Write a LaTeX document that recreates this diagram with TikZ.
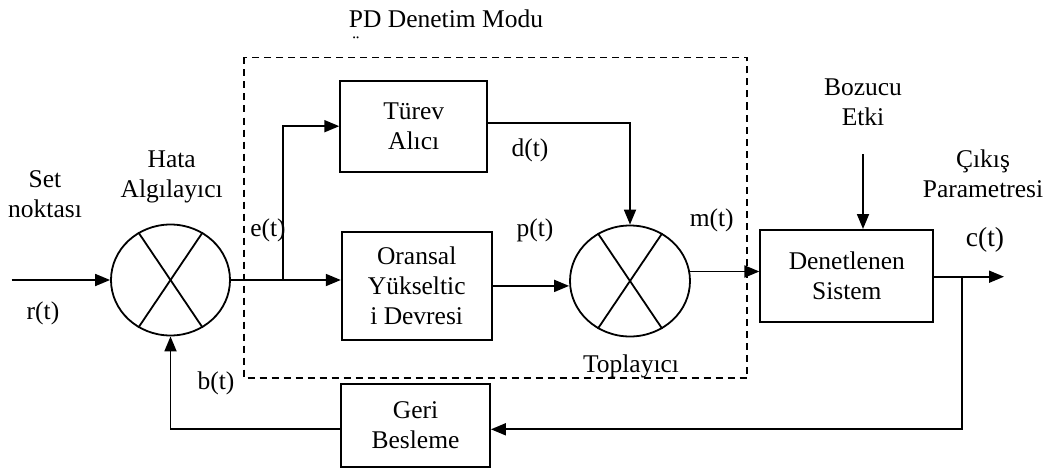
\documentclass[tikz,border=0pt]{standalone}
\usepackage{fontspec}
\setmainfont{Liberation Serif}
\usetikzlibrary{arrows.meta,shapes.geometric,calc}
\begin{document}
\begin{tikzpicture}[x=1pt,y=-1pt,
  every node/.style={font=\fontsize{25.5}{30}\selectfont, inner sep=0pt, align=center},
  blk/.style={draw, line width=1.8pt, rectangle},
  sumr/.style={draw, line width=1.8pt, ellipse, minimum width=119pt, minimum height=111pt},
  conn/.style={line width=1.8pt},
  arr/.style={line width=1.8pt, -{Triangle[length=15pt,width=12pt]}},
  frame/.style={line width=1.5pt, dash pattern=on 7pt off 5pt}]
\useasboundingbox (0,0) rectangle (1056,468);

% dashed PD frame
\draw[frame] (244,57.5) rectangle (747,378);

% blocks
\node[sumr] (hata) at (170.5,280) {};
\node[sumr, minimum width=120pt] (top) at (630,281) {};
\node[blk, minimum width=147pt, minimum height=91pt] (turev) at (413.7,126.2) {Türev\\Alıcı};
\node[blk, minimum width=150pt, minimum height=108pt] (oransal) at (416.7,285.9) {Oransal\\Yükseltic\\i Devresi};
\node[blk, minimum width=173pt, minimum height=92pt] (denet) at (846.8,275.9) {Denetlenen\\Sistem};
\node[blk, minimum width=149pt, minimum height=83pt] (geri) at (415.5,425.4) {Geri\\Besleme};

% crosses in the summing junctions
\foreach \s in {hata,top}{
  \draw[conn] (\s.124) -- (\s.-56);
  \draw[conn] (\s.56) -- (\s.-124);
}

% texts
\node (title) at (446,18.5) {PD Denetim Modu};
\node (dots) at (356,43) {\fontsize{20}{20}\selectfont ¨};
\node (set) at (45,194) {Set\\noktası};
\node (rt) at (43,313) {r(t)};
\node (hatal) at (171.7,177) {Hata\\Algılayıcı};
\node (et) at (268,230) {e(t)};
\node (bt) at (216,383) {b(t)};
\node (dt) at (530,150) {d(t)};
\node (pt) at (535,230) {p(t)};
\node (mt) at (711.7,220) {m(t)};
\node (topl) at (631,366) {Toplayıcı};
\node (boz) at (863,102) {Bozucu\\Etki};
\node (cikis) at (983,174) {Çıkış\\Parametresi};
\node[font=\fontsize{27.5}{30}\selectfont] (ct) at (985,240) {c(t)};

% connector points
\coordinate (rin) at (11.7,280);
\coordinate (br) at (283.3,280.7);
\coordinate (bz) at (863,154);
\coordinate (cout) at (1004,276.7);
\coordinate (bp) at (961.7,276.7);
\coordinate (fb) at (961.7,429.3);

% connectors
\draw[arr] (rin) -- (hata.west);
\draw[arr] (hata.east) -- (hata.east -| oransal.west);
\draw[arr] (br) |- (turev.west);
\draw[arr] ($(turev.east)+(0,-3.5)$) -| (top.north);
\draw[arr] (oransal.east) -- (oransal.east -| top.west);
\draw[arr] (top.9) -- (top.9 -| denet.west);
\draw[arr] (denet.east |- cout) -- (cout);
\draw[arr] (bp) -- (fb) -- (fb -| geri.east);
\draw[arr] (fb -| geri.west) -| (hata.south);
\draw[arr] (bz) -- (bz |- denet.north);
\end{tikzpicture}
\end{document}
